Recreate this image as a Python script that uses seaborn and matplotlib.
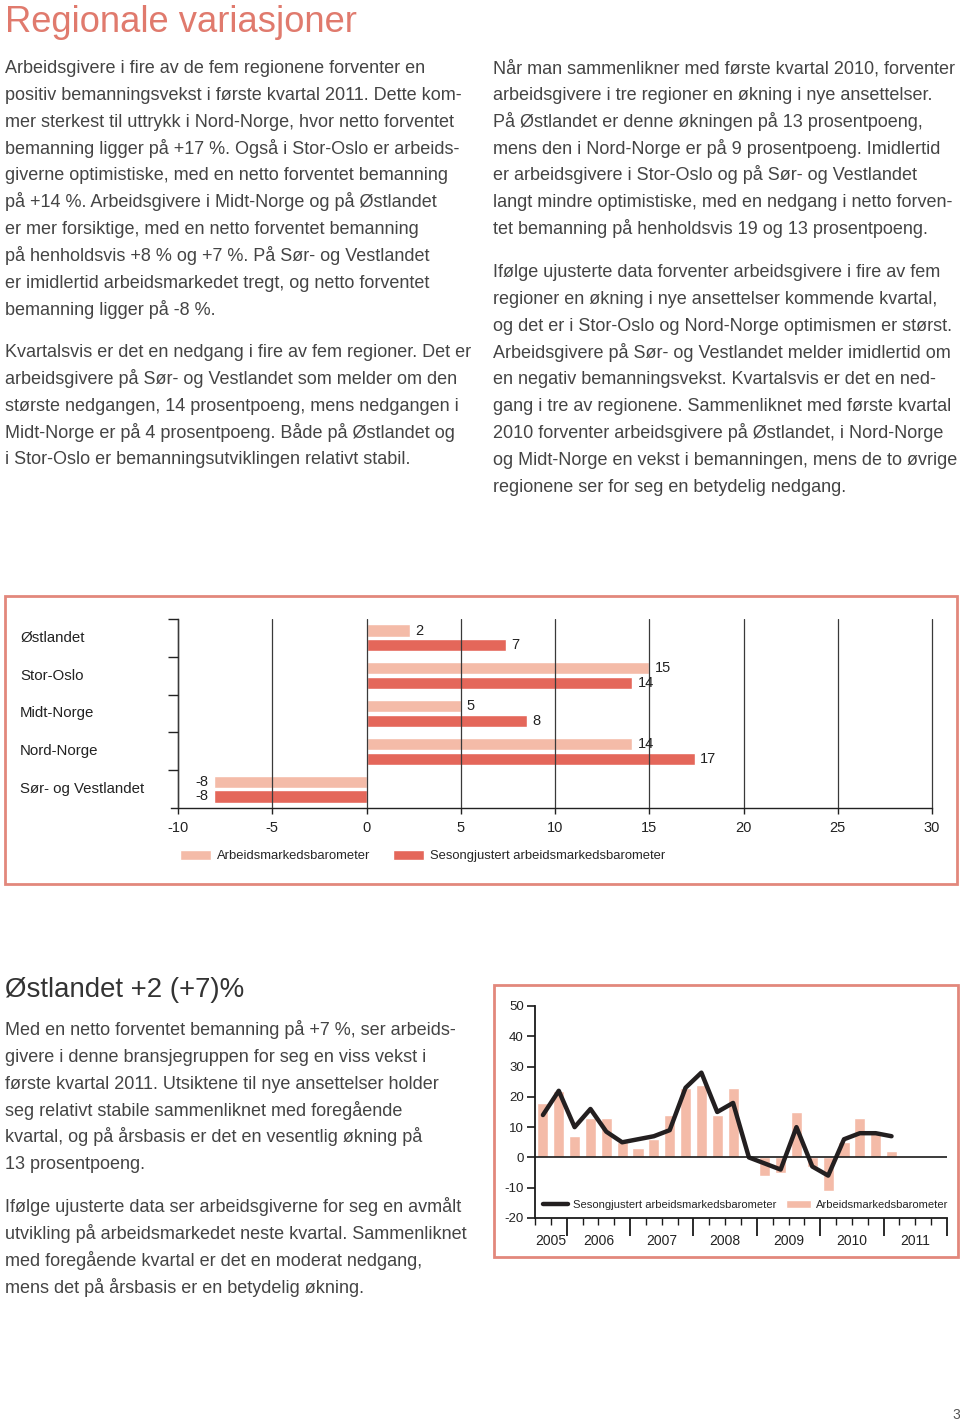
import numpy as np
import pandas as pd
import matplotlib
matplotlib.use('Agg')
import matplotlib.pyplot as plt
import matplotlib.transforms as mtransforms
from matplotlib.patches import Rectangle
import seaborn as sns

# --- data: regional chart ---
regions = ['Østlandet', 'Stor-Oslo', 'Midt-Norge', 'Nord-Norge', 'Sør- og Vestlandet']
barometer = [2.3, 15.0, 5.0, 14.1, -8.1]
seasonal = [7.4, 14.1, 8.5, 17.4, -8.1]
series_names = ['Arbeidsmarkedsbarometer', 'Sesongjustert arbeidsmarkedsbarometer']

# --- data: Østlandet quarterly (Q3 2005 .. Q1 2011) ---
years = ['2005', '2006', '2007', '2008', '2009', '2010', '2011']
quarters_per_year = [2, 4, 4, 4, 4, 4, 4]
quarter_bar = [18, 22, 7, 13, 13, 5, 3, 6, 14, 23, 24, 14, 23, 0,
               -6, -5, 15, -3, -11, 5, 13, 8, 2]
quarter_line = [14, 22, 10, 16, 8.5, 5, 6, 7, 9, 23, 28, 15, 18, 0,
                -2, -4, 10, -3, -6, 6, 8, 8, 7]

# --- page text ---
title = 'Regionale variasjoner'
left_p1 = [
    'Arbeidsgivere i fire av de fem regionene forventer en',
    'positiv bemanningsvekst i første kvartal 2011. Dette kom-',
    'mer sterkest til uttrykk i Nord-Norge, hvor netto forventet',
    'bemanning ligger på +17 %. Også i Stor-Oslo er arbeids-',
    'giverne optimistiske, med en netto forventet bemanning',
    'på +14 %. Arbeidsgivere i Midt-Norge og på Østlandet',
    'er mer forsiktige, med en netto forventet bemanning',
    'på henholdsvis +8 % og +7 %. På Sør- og Vestlandet',
    'er imidlertid arbeidsmarkedet tregt, og netto forventet',
    'bemanning ligger på -8 %.',
]
left_p2 = [
    'Kvartalsvis er det en nedgang i fire av fem regioner. Det er',
    'arbeidsgivere på Sør- og Vestlandet som melder om den',
    'største nedgangen, 14 prosentpoeng, mens nedgangen i',
    'Midt-Norge er på 4 prosentpoeng. Både på Østlandet og',
    'i Stor-Oslo er bemanningsutviklingen relativt stabil.',
]
right_p1 = [
    'Når man sammenlikner med første kvartal 2010, forventer',
    'arbeidsgivere i tre regioner en økning i nye ansettelser.',
    'På Østlandet er denne økningen på 13 prosentpoeng,',
    'mens den i Nord-Norge er på 9 prosentpoeng. Imidlertid',
    'er arbeidsgivere i Stor-Oslo og på Sør- og Vestlandet',
    'langt mindre optimistiske, med en nedgang i netto forven-',
    'tet bemanning på henholdsvis 19 og 13 prosentpoeng.',
]
right_p2 = [
    'Ifølge ujusterte data forventer arbeidsgivere i fire av fem',
    'regioner en økning i nye ansettelser kommende kvartal,',
    'og det er i Stor-Oslo og Nord-Norge optimismen er størst.',
    'Arbeidsgivere på Sør- og Vestlandet melder imidlertid om',
    'en negativ bemanningsvekst. Kvartalsvis er det en ned-',
    'gang i tre av regionene. Sammenliknet med første kvartal',
    '2010 forventer arbeidsgivere på Østlandet, i Nord-Norge',
    'og Midt-Norge en vekst i bemanningen, mens de to øvrige',
    'regionene ser for seg en betydelig nedgang.',
]
sub_title = 'Østlandet +2 (+7)%'
sub_p1 = [
    'Med en netto forventet bemanning på +7 %, ser arbeids-',
    'givere i denne bransjegruppen for seg en viss vekst i',
    'første kvartal 2011. Utsiktene til nye ansettelser holder',
    'seg relativt stabile sammenliknet med foregående',
    'kvartal, og på årsbasis er det en vesentlig økning på',
    '13 prosentpoeng.',
]
sub_p2 = [
    'Ifølge ujusterte data ser arbeidsgiverne for seg en avmålt',
    'utvikling på arbeidsmarkedet neste kvartal. Sammenliknet',
    'med foregående kvartal er det en moderat nedgang,',
    'mens det på årsbasis er en betydelig økning.',
]

LIGHT = '#f4bba8'
DARK = '#e4675a'
BORDER = '#e2887c'
TXT = '#444444'
W, H = 960, 1421

sns.set_style('white')
plt.rcParams['font.family'] = ['Liberation Sans', 'DejaVu Sans']
plt.rcParams['axes.unicode_minus'] = False

fig = plt.figure(figsize=(W / 100, H / 100), dpi=100)


def ax_px(left, top, right, bottom):
    return fig.add_axes([left / W, 1 - bottom / H, (right - left) / W, (bottom - top) / H])


def lines_at(x, base, lines, step=26.85, size=13.0):
    for i, s in enumerate(lines):
        fig.text(x / W, 1 - (base + i * step) / H, s, fontsize=size,
                 color=TXT, va='baseline', ha='left')


# text blocks
fig.text(5 / W, 1 - 32 / H, title, fontsize=26.2, color='#e07a6d', va='baseline')
lines_at(5, 73, left_p1)
lines_at(5, 357, left_p2)
lines_at(493, 73, right_p1)
lines_at(493, 277, right_p2)
fig.text(5 / W, 1 - 997 / H, sub_title, fontsize=19.9, color='#333333', va='baseline')
lines_at(5, 1035, sub_p1)
lines_at(5, 1212, sub_p2)
fig.text(952 / W, 1 - 1419 / H, '3', fontsize=10, color='#555555', va='baseline')

# frames
fig.add_artist(Rectangle((5 / W, 1 - 884 / H), 952 / W, 288 / H, transform=fig.transFigure,
                         fill=False, ec=BORDER, lw=2))
fig.add_artist(Rectangle((494 / W, 1 - 1257 / H), 464 / W, 272 / H, transform=fig.transFigure,
                         fill=False, ec=BORDER, lw=2))

# --- regional horizontal bars ---
ax1 = ax_px(171.4, 619, 934, 808)
df = pd.DataFrame({
    'region': regions * 2,
    'verdi': barometer + seasonal,
    'serie': [series_names[0]] * len(regions) + [series_names[1]] * len(regions),
})
sns.barplot(data=df, y='region', x='verdi', hue='serie', palette=[LIGHT, DARK],
            orient='h', width=0.78, gap=0.17, saturation=1, ax=ax1)
ax1.set_xlim(-10.35, 30.1)
ax1.set_ylim(len(regions) - 0.5, -0.5)
ax1.set_xticks(range(-10, 31, 5))
ax1.set_yticks(np.arange(len(regions)) - 0.5)
ax1.set_yticklabels([])
ax1.set_xlabel('')
ax1.set_ylabel('')
ax1.xaxis.grid(True, color='#3a3a3a', lw=0.9)
ax1.yaxis.grid(False)
ax1.set_axisbelow(False)
for s in ['top', 'right']:
    ax1.spines[s].set_visible(False)
ax1.spines['left'].set_position(('data', -10))
for s in ['left', 'bottom']:
    ax1.spines[s].set_color('#222222')
    ax1.spines[s].set_linewidth(1)
ax1.spines['bottom'].set_bounds(-10.35, 30)
ax1.tick_params(axis='y', left=True, length=7, width=1, color='#222222')
ax1.tick_params(axis='x', bottom=True, length=4, width=1, color='#222222',
                labelsize=10.5, labelcolor='#222222', pad=5)

lab_tr = mtransforms.blended_transform_factory(fig.transFigure, ax1.transData)
for i, r in enumerate(regions):
    ax1.text(20 / W, i, r, transform=lab_tr, fontsize=10.8, color='#222222',
             va='center', ha='left')
for c in ax1.containers:
    ax1.bar_label(c, fmt='%d', padding=4, fontsize=10.5, color='#222222')

sns.move_legend(ax1, 'center left', bbox_to_anchor=((180 - 171.4) / 762.6, (808 - 856) / 189),
                ncol=2, frameon=False, title=None, fontsize=9.4, handlelength=2.4,
                handleheight=0.8, handletextpad=0.45, columnspacing=1.7,
                borderaxespad=0, borderpad=0)

# --- Østlandet quarterly chart ---
ax2 = ax_px(535, 1006, 947, 1218)
q_idx = np.arange(len(quarter_bar))
sns.barplot(x=q_idx, y=quarter_bar, color=LIGHT, saturation=1,
            width=0.7, ax=ax2, label=series_names[0])
sns.lineplot(x=q_idx, y=quarter_line, color='#231f20', lw=3.2, ax=ax2,
             label=series_names[1])
ax2.axhline(0, color='#1a1a1a', lw=1.2)
ax2.set_xlim(-0.5, 25.5)
ax2.set_ylim(-20, 50)
ax2.set_yticks(range(-20, 51, 10))

bounds = -0.5 + np.cumsum([0] + quarters_per_year)
centers = (bounds[:-1] + bounds[1:]) / 2
ax2.set_xticks(bounds[1:])
ax2.set_xticklabels([])
ax2.set_xticks(np.arange(-0.5, bounds[-1] + 0.1, 1), minor=True)
ax2.tick_params(axis='x', which='major', bottom=True, length=13, width=1.3, color='#1a1a1a')
ax2.tick_params(axis='x', which='minor', bottom=True, length=5, width=1, color='#1a1a1a')
ax2.tick_params(axis='y', left=True, length=6, width=1.2, color='#1a1a1a',
                labelsize=9.5, labelcolor='#222222', pad=2)
ax2.set_xlabel('')
ax2.set_ylabel('')
for s in ['top', 'right']:
    ax2.spines[s].set_visible(False)
for s in ['left', 'bottom']:
    ax2.spines[s].set_color('#1a1a1a')
    ax2.spines[s].set_linewidth(1.3)
for c, y in zip(centers, years):
    ax2.text(c, -0.108, y, transform=ax2.get_xaxis_transform(), ha='center',
             va='center', fontsize=10, color='#222222')

h, l = ax2.get_legend_handles_labels()
order = [l.index(series_names[1]), l.index(series_names[0])]
ax2.legend([h[i] for i in order], [l[i] for i in order], loc='center left',
           bbox_to_anchor=((543 - 535) / 412, (1218 - 1205) / 212), ncol=2,
           frameon=False, fontsize=8.1, handlelength=2.2, handletextpad=0.5,
           columnspacing=0.8, borderpad=0, borderaxespad=0)

fig.savefig('out.png', dpi=100)
